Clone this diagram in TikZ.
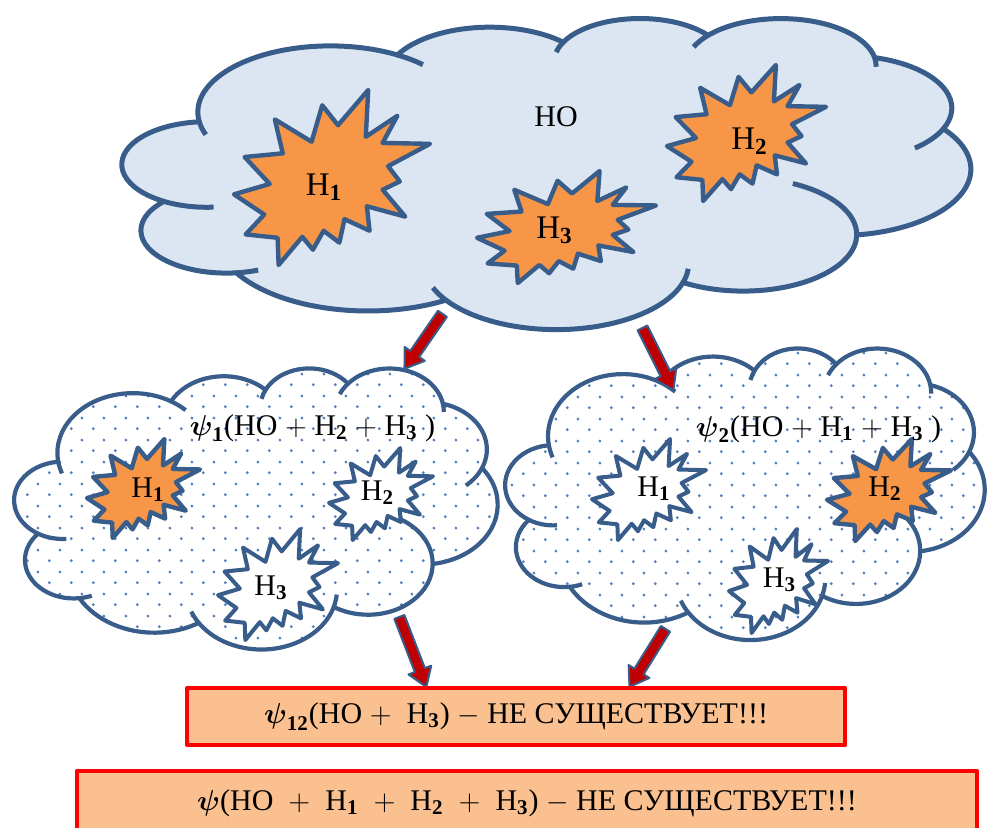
\documentclass[tikz,border=0pt]{standalone}
\usepackage{amsmath}
\usepackage{amssymb}
\usepackage{fontspec}
\setmainfont{Liberation Serif}
\usetikzlibrary{arrows, calc, shapes.arrows, patterns.meta}

\definecolor{cloudline}{RGB}{56,93,138}
\definecolor{cloudfill}{RGB}{220,230,242}
\definecolor{burstfill}{RGB}{247,150,70}
\definecolor{dotblue}{RGB}{84,128,192}
\definecolor{arrowred}{RGB}{192,0,0}
\definecolor{boxfill}{RGB}{250,192,144}

\tikzdeclarepattern{
    name = clouddots,
    type = uncolored,
    bounding box = {(0pt,0pt) and (10.8pt,10.8pt)},
    tile size = {(10.8pt,10.8pt)},
    code = {\fill (2.7pt,2.7pt) circle (0.8pt) (8.1pt,8.1pt) circle (0.8pt);}
}

\tikzset{
    % cloud in a 432 x 432 box, puffs as elliptic arcs
    cloud outline/.style = {insert path = {
        (39.00,143.70)
        arc[start angle=-187.75, end angle=-59.64, x radius=67.53, y radius=91.90]
        arc[start angle=-152.03, end angle=-45.46, x radius=53.33, y radius=72.67]
        arc[start angle=-153.49, end angle=-37.32, x radius=43.65, y radius=59.45]
        arc[start angle=-139.72, end angle=-10.21, x radius=48.57, y radius=65.95]
        arc[start angle=-74.77, end angle=23.21, x radius=53.33, y radius=72.73]
        arc[start angle=-37.51, end angle=81.86, x radius=67.75, y radius=92.20]
        arc[start angle=0.46, end angle=121.97, x radius=57.85, y radius=78.67]
        arc[start angle=16.85, end angle=146.24, x radius=67.52, y radius=92.15]
        arc[start angle=58.99, end angle=150.20, x radius=77.20, y radius=105.43]
        arc[start angle=-276.69, end angle=-136.90, x radius=43.60, y radius=59.18]
        arc[start angle=-239.65, end angle=-95.89, x radius=43.45, y radius=59.45]
        -- cycle}},
    % short arcs going inwards from the dents
    cloud creases/.style = {insert path = {
        (21.10,255.45) arc[start angle=120.35, end angle=85.55, x radius=43.45, y radius=59.45]
        (58.02,354.65) arc[start angle=83.31, end angle=68.24, x radius=43.60, y radius=59.18]
        (164.78,392.61) arc[start angle=146.24, end angle=158.47, x radius=67.52, y radius=92.15]
        (285.53,368.10) arc[start angle=16.85, end angle=4.74, x radius=67.52, y radius=92.15]
        (374.01,301.99) arc[start angle=0.46, end angle=-64.03, x radius=57.85, y radius=78.67]
        (418.17,154.59) arc[start angle=23.21, end angle=49.65, x radius=53.33, y radius=72.73]
        (383.17,55.75) arc[start angle=-10.21, end angle=0.82, x radius=48.57, y radius=65.95]
        (298.32,24.80) arc[start angle=-139.72, end angle=-156.29, x radius=48.57, y radius=65.95]
        (224.55,34.30) arc[start angle=-153.49, end angle=-167.73, x radius=43.65, y radius=59.45]
        (140.04,52.02) arc[start angle=-59.64, end angle=-45.74, x radius=67.53, y radius=91.90]
        (39.00,143.70) arc[start angle=172.25, end angle=160, x radius=67.53, y radius=91.90]}},
    % explosion in a 21.6 x 21.6 box
    seal outline/.style = {insert path = {
        (11.462,4.342) -- (14.790,0) -- (14.525,5.777) -- (18.007,3.172) -- (16.380,6.532)
        -- (21.600,6.645) -- (16.985,9.402) -- (18.270,11.290) -- (16.380,12.310)
        -- (18.877,15.632) -- (14.640,14.350) -- (14.942,17.370) -- (12.180,15.935)
        -- (11.612,18.842) -- (9.872,17.370) -- (8.700,19.712) -- (7.527,18.125)
        -- (4.917,21.600) -- (4.805,18.240) -- (1.285,17.825) -- (3.330,15.370)
        -- (0,12.877) -- (3.935,11.592) -- (1.172,8.270) -- (5.372,7.817)
        -- (4.502,3.625) -- (8.550,6.382) -- (9.722,1.887) -- cycle}}
}

% x, y, width, height, line style, fill style
\newcommand{\msCloud}[6]{%
    \begin{scope}[shift={(#1,#2)}, xscale=#3/432, yscale=#4/432]
        \path[#5, #6] [cloud outline];
        \draw[#5] [cloud creases];
    \end{scope}}
% x, y, width, height, style
\newcommand{\msSeal}[5]{%
    \begin{scope}[shift={(#1,#2)}, xscale=#3/21.6, yscale=#4/21.6]
        \path[#5] [seal outline];
    \end{scope}}

\begin{document}
\begin{tikzpicture}[
            x = 0.5pt, y = -0.5pt, % one unit = one pixel
            line join = round,
            topline/.style = {draw = cloudline, line width = 2.5pt},
            lowline/.style = {draw = cloudline, line width = 2.1pt},
            topfill/.style = {fill = cloudfill},
            dotfill/.style = {pattern = clouddots, pattern color = dotblue},
            hotburst/.style = {draw = cloudline, line width = 2.2pt, fill = burstfill},
            coldburst/.style = {draw = cloudline, line width = 2pt, fill = white},
            hname/.style = {inner sep = 0pt, anchor = base, font = \fontsize{15}{18}\selectfont},
            hbig/.style = {hname, font = \fontsize{16.5}{19}\selectfont},
            psiline/.style = {hname, font = \fontsize{15}{18}\selectfont},
            redarrow/.style = {
                single arrow,
                draw = cloudline,
                fill = arrowred,
                line width = 1pt,
                inner xsep = 0pt,
                inner ysep = 2.2pt,
                single arrow head extend = 3.4pt,
                single arrow tip angle = 68,
                anchor = tail
            },
            resultbox/.style = {
                draw = red,
                line width = 2pt,
                fill = boxfill,
                inner sep = 0pt,
                font = \fontsize{15}{18}\selectfont
            }
        ]

        \useasboundingbox (0,0) rectangle (988,827);
        \clip (0,0) rectangle (988,827);

        % top cloud
        \msCloud{122.5}{17.5}{848}{311}{topline}{topfill}
        \msSeal{234}{90}{196}{175}{hotburst}
        \msSeal{667}{65}{159}{136}{hotburst}
        \msSeal{477}{171}{179}{112}{hotburst}

        \node[hname] (ho) at (556,126) {НО};
        \node[hbig] (topone) at (324,195) {Н$_{\mathbf{1}}$};
        \node[hbig] (toptwo) at (749.5,149) {Н$_{\mathbf{2}}$};
        \node[hbig] (topthree) at (554.5,238) {Н$_{\mathbf{3}}$};

        % left cloud
        \msCloud{14.5}{367.5}{483}{281}{lowline}{dotfill}
        \msSeal{87}{439}{113}{99}{hotburst}
        \msSeal{329}{448}{104}{92}{coldburst}
        \msSeal{218}{529}{120}{111}{coldburst}

        \node[psiline] (psione) at (312.5,435)
            {$\boldsymbol{\psi}_{\mathbf{1}}$(НО $+$ Н$_{\mathbf{2}}$ $+$ Н$_{\mathbf{3}}$ )};
        \node[hname] (leftone) at (148,497) {Н$_{\mathbf{1}}$};
        \node[hname] (lefttwo) at (377.5,500) {Н$_{\mathbf{2}}$};
        \node[hname] (leftthree) at (271,595) {Н$_{\mathbf{3}}$};

        % right cloud
        \msCloud{505.5}{347.5}{479}{291.5}{lowline}{dotfill}
        \msSeal{592}{439}{114}{101}{coldburst}
        \msSeal{827}{439}{124}{102}{hotburst}
        \msSeal{729}{529}{99}{104}{coldburst}

        \node[psiline] (psitwo) at (818.5,436)
            {$\boldsymbol{\psi}_{\mathbf{2}}$(НО $+$ Н$_{\mathbf{1}}$ $+$ Н$_{\mathbf{3}}$ )};
        \node[hname] (rightone) at (654,496) {Н$_{\mathbf{1}}$};
        \node[hname] (righttwo) at (885,496) {Н$_{\mathbf{2}}$};
        \node[hname] (rightthree) at (779.5,587) {Н$_{\mathbf{3}}$};

        % arrows
        \coordinate (t1) at (443,313);
        \coordinate (p1) at (405,368);
        \coordinate (t2) at (642,327);
        \coordinate (p2) at (673,389);
        \coordinate (t3) at (399,616);
        \coordinate (p3) at (426,686);
        \coordinate (t4) at (666,628);
        \coordinate (p4) at (630,686);

        \foreach \i in {1,...,4}
            \path let \p1 = ($(p\i)-(t\i)$) in
                node[redarrow, minimum height = {veclen(\x1,\y1)},
                    rotate = {atan2(\y1,\x1)}] (arrow\i) at (t\i) {};

        % results
        \node[resultbox, minimum width = 329pt, minimum height = 28.5pt] (twelve) at (516,716.5)
            {$\boldsymbol{\psi}_{\mathbf{12}}$(НО $+$~ Н$_{\mathbf{3}}$) $-$ НЕ СУЩЕСТВУЕТ!!!};
        \node[resultbox, minimum width = 450pt, minimum height = 32pt] (all) at (527,803)
            {$\boldsymbol{\psi}$(НО~ $+$ ~Н$_{\mathbf{1}}$~ $+$ ~Н$_{\mathbf{2}}$~ $+$ ~Н$_{\mathbf{3}}$) $-$ НЕ СУЩЕСТВУЕТ!!!};
    \end{tikzpicture}
\end{document}
